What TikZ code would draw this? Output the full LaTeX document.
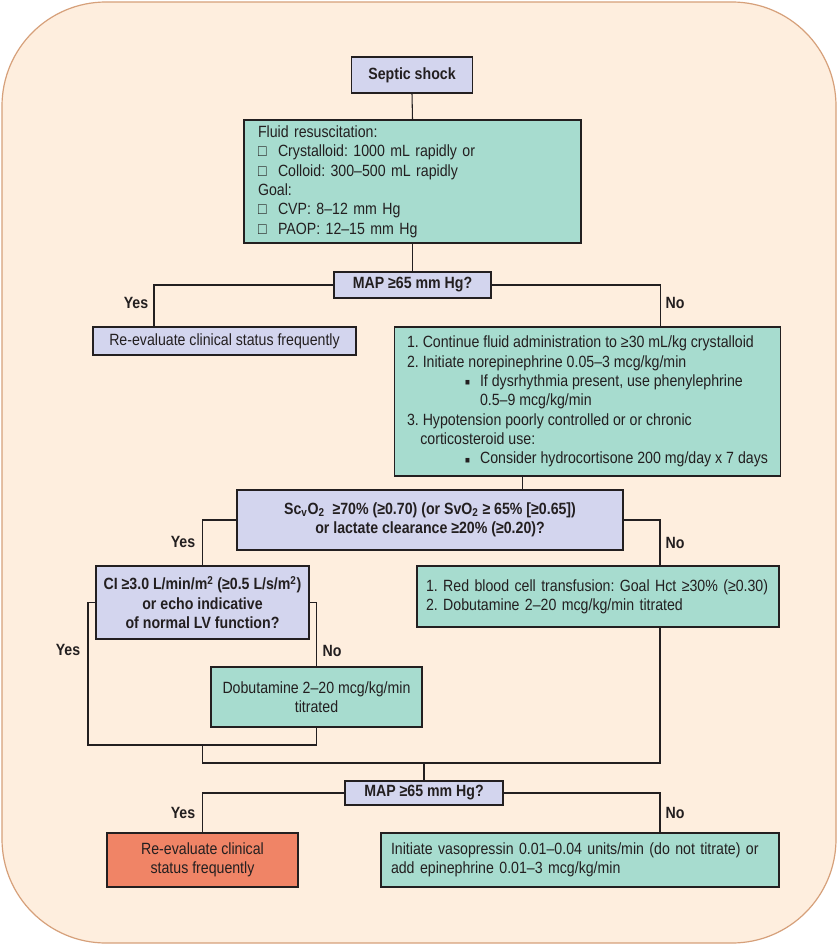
\documentclass[tikz,border=0pt]{standalone}
\usepackage{fontspec}
\setmainfont{Liberation Sans}[FakeStretch=0.87]
\usepackage{xcolor}
\usepackage{tikz}
\usetikzlibrary{arrows.meta}
\frenchspacing

\definecolor{pagebg}{HTML}{FEEEDE}
\definecolor{pagerim}{HTML}{D6A07A}
\definecolor{qfill}{HTML}{D3D5EE}
\definecolor{actfill}{HTML}{A7DCCF}
\definecolor{alertfill}{HTML}{F08466}
\definecolor{ink}{HTML}{231F20}

\newcommand{\sqbox}{\makebox[15pt][l]{□}}
\newcommand{\sqitem}{\hspace*{43.5pt}\makebox[11.25pt][l]{\raisebox{0.5pt}{\fontsize{7}{7}\selectfont ■}}}

\begin{document}
\begin{tikzpicture}[
  x=0.75pt, y=-0.75pt,
  font=\fontsize{12.2}{14.5}\selectfont,
  box/.style={rectangle, draw=ink, line width=0.9pt, inner sep=0pt, text=ink},
  qbox/.style={box, fill=qfill, font=\fontsize{12.2}{14.5}\selectfont\bfseries, align=center},
  actbox/.style={box, fill=actfill, align=center},
  alertbox/.style={box, fill=alertfill, align=center},
  lbl/.style={font=\fontsize{12.2}{14.5}\selectfont\bfseries, text=ink, inner sep=0pt},
  conn/.style={draw=ink, line width=0.8pt}
]
\useasboundingbox (0,0) rectangle (838,945);
\draw[fill=pagebg, draw=pagerim, line width=0.9pt, rounded corners=78pt] (2,2) rectangle (836,943);

% first pass
\node[qbox, minimum width=90.75pt, minimum height=27pt] (septic) at (412,75) {Septic shock};
\node[actbox, minimum width=252.75pt, minimum height=92.25pt, text width=231.75pt, align=left] (fluid) at (412.5,181.5) {%
  Fluid resuscitation:\\
  \sqbox Crystalloid: 1000 mL rapidly or\\
  \sqbox Colloid: 300–500 mL rapidly\\
  Goal:\\
  \sqbox CVP: 8–12 mm Hg\\
  \sqbox PAOP: 12–15 mm Hg};
\node[qbox, minimum width=117.75pt, minimum height=19.5pt] (map1) at (412.5,285) {MAP ≥65 mm Hg?};
\node[qbox, font=\fontsize{12.2}{14.5}\selectfont, minimum width=197.25pt, minimum height=21pt] (reeval1) at (224.5,341) {Re-evaluate clinical status frequently};
\node[actbox, minimum width=289.5pt, minimum height=111.75pt, align=left] (fluidmore) at (587.5,401.5) {%
  1. Continue fluid administration to ≥30 mL/kg crystalloid\\
  2. Initiate norepinephrine 0.05–3 mcg/kg/min\\
  \sqitem If dysrhythmia present, use phenylephrine\\
  \hspace*{54.75pt}0.5–9 mcg/kg/min\\
  3. Hypotension poorly controlled or or chronic\\
  \hspace*{10pt}corticosteroid use:\\
  \sqitem Consider hydrocortisone 200 mg/day x 7 days};

% oxygenation check
\node[qbox, minimum width=289.5pt, minimum height=45pt] (scvo2) at (430,520) {%
  Sc\textsubscript{v}O\textsubscript{2}\ \ ≥70\% (≥0.70) (or SvO\textsubscript{2} ≥ 65\% [≥0.65])\\
  or lactate clearance ≥20\% (≥0.20)?};
\node[qbox, minimum width=159.75pt, minimum height=54.75pt] (cardiac) at (202.5,602.5) {%
  CI ≥3.0 L/min/m\textsuperscript{2} (≥0.5 L/s/m\textsuperscript{2})\\
  or echo indicative\\
  of normal LV function?};
\node[actbox, minimum width=271.5pt, minimum height=45.75pt, text width=258pt, align=left] (transfuse) at (598,596.5) {%
  1. Red blood cell transfusion: Goal Hct ≥30\% (≥0.30)\\
  2. Dobutamine 2–20 mcg/kg/min titrated};
\node[actbox, minimum width=158.25pt, minimum height=45pt] (dobut) at (316.5,697) {%
  Dobutamine 2–20 mcg/kg/min\\ titrated};

% second pressure check
\node[qbox, minimum width=118.5pt, minimum height=18pt] (map2) at (424,793) {MAP ≥65 mm Hg?};
\node[alertbox, minimum width=143.25pt, minimum height=40.5pt] (reeval2) at (202.5,860) {%
  Re-evaluate clinical\\ status frequently};
\node[actbox, minimum width=298.5pt, minimum height=40.5pt, text width=283.5pt, align=left] (vaso) at (580,860) {%
  Initiate vasopressin 0.01–0.04 units/min (do not titrate) or\\
  add epinephrine 0.01–3 mcg/kg/min};

% branch labels
\node[lbl] (yes1) at (136,303) {Yes};
\node[lbl] (no1) at (675,303) {No};
\node[lbl] (yes2) at (183,542) {Yes};
\node[lbl] (no2) at (675,543) {No};
\node[lbl] (yes3) at (68,650) {Yes};
\node[lbl] (no3) at (332,651) {No};
\node[lbl] (yes4) at (183,813) {Yes};
\node[lbl] (no4) at (675,813) {No};

\coordinate (joinL) at (88,745);
\coordinate (merge1) at (202.5,745);
\coordinate (merge2) at (660,763);

\draw[conn] (septic.south) -- (fluid.north);
\draw[conn] (fluid.south) -- (map1.north);
\draw[conn] (map1.west) -| ([xshift=-52.9pt]reeval1.north);
\draw[conn] (map1.east) -| ([xshift=54.4pt]fluidmore.north);
\draw[conn] ([xshift=-49.1pt]fluidmore.south) -- ([xshift=-49.1pt]fluidmore.south |- scvo2.north);
\draw[conn] (scvo2.west) -| (cardiac.north);
\draw[conn] (scvo2.east) -| ([xshift=46.5pt]transfuse.north);
\draw[conn] (cardiac.west) -| (joinL) -| (dobut.south);
\draw[conn] (cardiac.east) -| (dobut.north);
\draw[conn] (merge1) |- (merge2) -- ([xshift=46.5pt]transfuse.south);
\draw[conn] (map2.north) -- (map2.north |- merge2);
\draw[conn] (map2.west) -| (reeval2.north);
\draw[conn] (map2.east) -| ([xshift=60pt]vaso.north);

\end{tikzpicture}
\end{document}
